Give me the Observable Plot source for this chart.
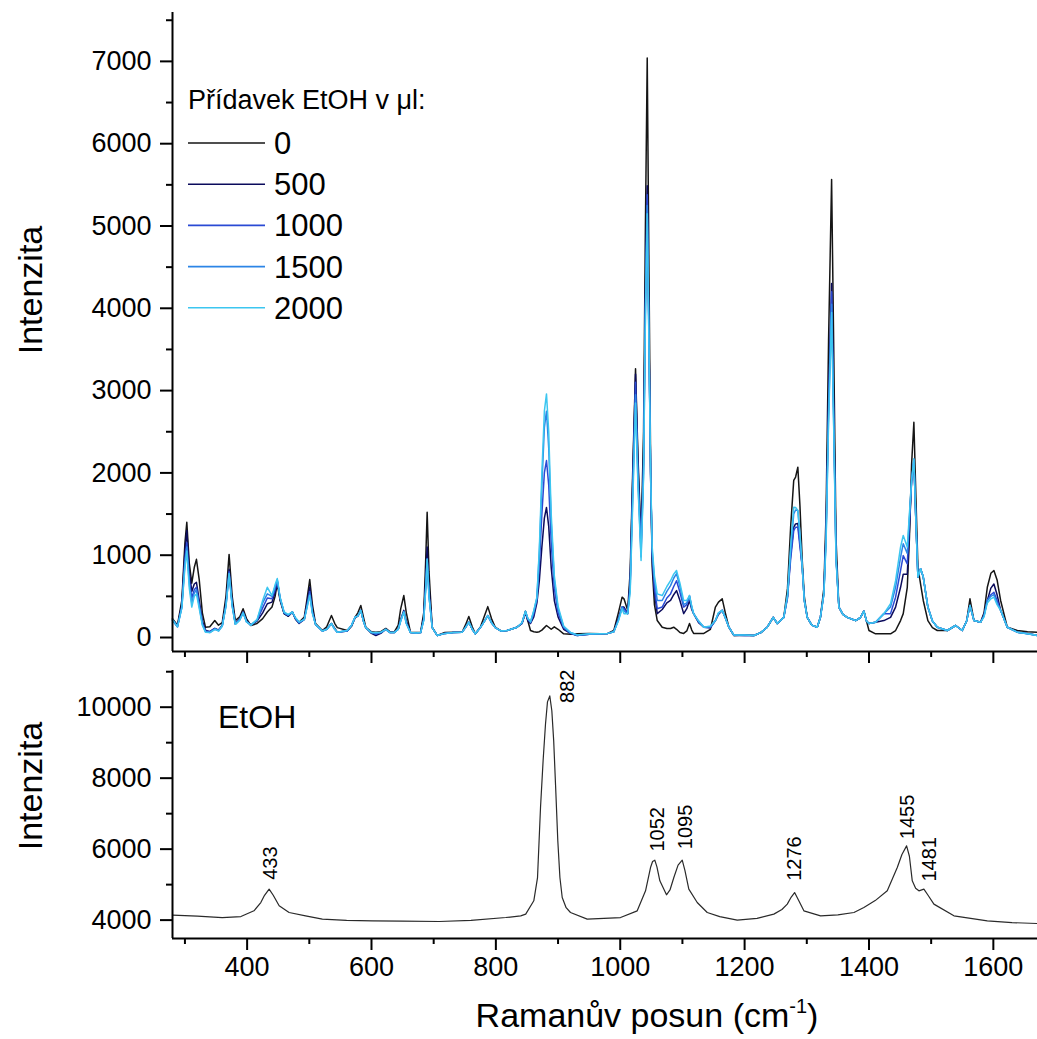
<!DOCTYPE html>
<html><head><meta charset="utf-8">
<script src="https://cdn.jsdelivr.net/npm/d3@7"></script>
<script src="https://cdn.jsdelivr.net/npm/@observablehq/plot@0.6"></script>
<style>
body{margin:0;background:#fff;}
#chart{position:relative;width:1037px;height:1039px;font-family:"Liberation Sans",Arial,sans-serif;}
#chart > svg, #chart > figure{display:block;margin:0}
#overlay{position:absolute;left:0;top:0;pointer-events:none}
</style></head><body><div id="chart"></div>
<script>
// ---- Top panel: Raman shift (cm-1) shared by the five spectra ----
const shift = [
280,288,295,300,303,307,311,315,318.5,323,
328,333,340,348,354,360,366,371,376,381,
388,393.5,399,406,416,425,432.5,440,445,448.5,
453,459.5,466,472.8,478,483.6,492,496,500.7,505,
510,521,528,535.6,541,545,561,568,573.7,578,
582.8,587,590.8,600,607,615,623,630,636.5,643,
647,652,656,662.7,672,679,684,687,689.5,692.5,
697.6,705.6,718,732,745.8,751,756.5,762,767,775,
781,787,793,799,808,818,834,842,847.6,851.5,
855.7,861,866,870,874,878,881.4,885,889,894,
900,909,920,930.8,950,968,980,989.7,997,1003,
1006,1012,1016,1020,1024.6,1028.5,1033.5,1037.5,1040.5,1043.4,
1046.5,1049,1051.4,1055,1059.5,1067.5,1075,1080.9,1086,1090.5,
1096,1102,1107,1111.4,1115,1118,1126,1134.5,1145,1153,
1158,1164,1169,1174.7,1182.7,1200,1214.9,1226,1236.4,1246,
1252.5,1263,1269,1274,1279,1282,1285.6,1289,1292.7,1296,
1300.7,1308,1316.8,1322,1327.5,1331,1335,1339.9,1343.5,1347,
1351.6,1358,1365,1378.4,1386,1391.8,1396,1400,1410.6,1424,
1434.7,1442.8,1450.8,1455.1,1461.6,1465,1468.5,1472.2,1475.5,1478.7,
1483,1487.3,1494.7,1502,1509.9,1526,1539.3,1550,1557,1562.4,
1568.8,1579.5,1585,1590.3,1596,1600.9,1606,1611.7,1622.4,1638.5,1655,1671];

const int0 = [
230,150,450,1150,1400,900,660,850,950,700,
300,125,130,206,150,180,500,1010,500,206,
250,350,230,146,170,230,310,370,500,656,
450,290,260,310,230,186,250,450,705,400,
170,85,130,267,170,120,85,140,247,300,
390,250,125,70,65,70,110,70,65,150,
350,510,300,65,60,65,300,900,1523,800,
125,25,60,65,65,150,255,130,45,125,
250,375,230,125,80,85,125,170,320,200,
85,70,65,70,90,120,146,125,100,130,
100,45,40,45,50,45,50,85,300,490,
470,330,800,2000,3265,2200,1180,2500,5000,7040,
4200,2000,855,400,206,125,110,110,125,100,
60,50,80,170,90,50,50,50,100,370,
430,470,300,125,25,30,25,60,125,245,
170,245,600,1340,1910,1950,2070,1600,935,500,
245,150,125,250,600,1500,3600,5565,3400,1200,
370,280,245,206,240,320,200,85,45,45,
45,85,206,290,610,1200,2100,2615,1700,855,
650,450,206,120,85,85,146,85,200,470,
206,186,300,610,780,815,700,450,125,85,70,65];

const int500 = [
220,140,400,1050,1300,800,560,650,670,450,
200,90,70,110,90,150,420,830,420,170,
220,310,200,150,200,300,410,430,550,680,
470,290,260,310,220,170,220,400,610,330,
160,80,100,170,110,65,80,140,240,260,
330,200,120,50,25,50,100,60,60,100,
220,330,200,60,55,60,250,700,1100,600,
120,25,50,60,65,120,186,100,45,120,
190,267,180,120,80,85,125,170,300,200,
170,250,420,700,1100,1450,1580,1350,850,450,
250,100,50,25,40,45,50,70,230,370,
370,290,700,1900,3200,2100,1100,2200,4200,5490,
3500,1900,950,550,290,340,420,450,520,570,
450,290,350,450,340,290,180,125,120,206,
280,330,240,125,25,25,25,60,125,245,
170,245,500,1000,1340,1380,1385,1150,855,450,
245,150,125,250,550,1300,2900,4300,2700,1000,
370,280,245,206,240,320,200,170,186,206,
245,370,610,770,770,1300,1900,2150,1400,735,
835,735,370,200,125,85,146,85,200,390,
206,186,280,450,600,650,520,330,125,65,50,25];

const int1000 = [
210,130,380,950,1150,700,480,580,610,400,
180,80,70,110,90,140,400,800,400,170,
220,310,200,150,210,360,480,470,580,690,
480,300,270,310,230,180,220,380,560,310,
160,80,100,170,100,65,80,150,250,260,
330,200,120,60,40,60,100,60,60,100,
210,320,180,60,55,60,220,600,960,520,
120,25,50,60,65,120,186,100,45,120,
190,267,180,120,80,85,125,170,310,220,
180,290,460,900,1500,2000,2150,1850,1150,600,
300,120,50,25,40,45,50,70,220,370,
350,290,650,1800,3100,2000,1050,2100,4100,5380,
3450,1900,1000,600,350,370,480,530,620,690,
550,370,400,500,360,290,190,125,120,206,
290,330,240,125,30,25,25,60,125,245,
170,245,480,950,1300,1340,1340,1100,855,450,
245,150,125,250,530,1250,2800,4200,2600,980,
370,280,245,206,240,320,200,170,186,290,
290,490,815,995,895,1400,1900,2150,1400,735,
835,735,370,200,125,85,146,85,200,390,
206,186,270,450,520,550,450,330,125,65,45,25];

const int1500 = [
210,130,360,900,1100,650,420,540,580,380,
160,70,60,100,80,140,380,780,380,160,
210,300,190,150,210,420,530,500,620,700,
480,300,270,310,230,180,220,360,530,300,
160,80,100,170,100,65,85,150,250,260,
330,200,120,60,50,60,100,60,60,100,
200,310,170,60,55,60,210,580,950,500,
120,25,50,60,65,120,186,100,45,120,
190,267,180,120,80,85,125,180,320,230,
190,320,480,1050,1850,2550,2750,2300,1400,700,
350,130,60,30,40,45,50,70,210,370,
320,290,600,1700,2950,1900,980,2000,3950,5250,
3400,1950,1050,700,450,450,560,630,720,775,
620,400,420,510,370,290,200,125,130,206,
300,330,240,125,30,30,25,60,125,245,
170,245,500,1050,1500,1550,1543,1250,855,450,
245,150,125,250,530,1200,2700,4050,2500,960,
370,280,245,206,240,320,200,170,186,290,
370,610,975,1140,1020,1450,1900,2170,1400,735,
835,735,370,200,125,85,146,85,200,390,
206,186,260,450,500,520,420,330,125,65,45,25];

const int2000 = [
220,130,360,850,1050,600,370,500,530,350,
150,65,60,100,80,140,380,775,380,160,
210,300,190,150,220,450,610,510,640,717,
490,310,280,310,240,190,220,350,510,290,
160,80,100,170,100,65,85,150,250,260,
330,200,120,60,60,65,100,60,60,100,
200,310,170,60,55,60,210,560,950,500,
120,25,50,60,65,120,186,100,45,120,
190,267,180,120,80,85,125,180,320,230,
190,330,490,1100,2000,2750,2960,2500,1500,750,
380,140,60,30,45,45,50,70,200,350,
290,290,550,1600,2850,1850,935,1950,3900,5150,
3350,1950,1100,750,530,510,620,690,770,815,
660,450,450,510,380,290,200,125,140,206,
300,330,240,125,30,30,25,60,125,245,
170,245,520,1100,1583,1580,1543,1250,855,450,
245,150,125,250,530,1150,2600,3950,2450,950,
370,280,245,206,240,320,200,170,186,290,
410,690,1100,1240,1100,1500,1900,2170,1400,735,
835,735,370,200,125,85,146,85,200,390,
206,186,250,420,470,490,400,330,125,65,45,25];

const seriesNames = ["0", "500", "1000", "1500", "2000"];
const seriesColors = ["#151515", "#0b0b5c", "#2a4ad4", "#2c85e6", "#3cc6f0"];

// ---- Bottom panel: EtOH reference spectrum ----
const etohShift = [
280,320,360,390,411,422,428,435.4,442,451.5,
467.5,494,521,560,601.5,650,708.8,760,816,840,
848,861,867,871.8,876,879.8,883,886.7,890,893,
896,899.6,903,906.7,913,920,946.9,1000.5,1027.3,1040.7,
1048.7,1052,1055.6,1059,1063.7,1074.4,1080,1086.2,1093,1099.7,
1104,1110.3,1123.8,1139.9,1160,1188.2,1220,1247,1260,1268.6,
1275,1280.4,1287,1295.3,1322.2,1350,1375.8,1391.8,1410,1429.4,
1445.5,1453,1460.5,1465,1469.6,1475,1480.3,1488.3,1495,1504.4,
1536.6,1590.3,1630,1670.7];
const etohInt = [
4141,4110,4073,4100,4262,4496,4700,4873,4700,4403,
4214,4121,4028,3990,3980,3970,3961,3990,4073,4121,
4169,4544,5200,7172,8500,9521,10150,10318,9900,9050,
7800,6234,5200,4637,4350,4214,4028,4073,4262,4825,
5482,5650,5690,5500,5107,4713,4850,5200,5550,5690,
5400,4873,4496,4214,4100,4000,4050,4169,4300,4451,
4650,4777,4550,4262,4121,4150,4214,4355,4550,4825,
5482,5850,6093,5800,5107,4900,4825,4873,4700,4451,
4121,3980,3930,3904];

const peakLabels = ["433", "882", "1052", "1095", "1276", "1455", "1481"];
const peakLabelShift = [437.5, 914.7, 1059.5, 1105, 1280.6, 1461.6, 1498];
const peakLabelIntensity = [5135, 10121, 5932, 6000, 5107, 6282, 5087];

// ---- Ticks ----
const xMajor = [400, 600, 800, 1000, 1200, 1400, 1600];
const xMinor = [300, 500, 700, 900, 1100, 1300, 1500];
const yTopMajor = [0, 1000, 2000, 3000, 4000, 5000, 6000, 7000];
const yTopMinor = [500, 1500, 2500, 3500, 4500, 5500, 6500, 7500];
const yBotMajor = [4000, 6000, 8000, 10000];
const yBotMinor = [5000, 7000, 9000, 11000];

// ---- Build ----
const W = 1037;
const font = '"Liberation Sans", Arial, sans-serif';
const fmt = d3.format("d");
const seriesValues = [int0, int500, int1000, int1500, int2000];
const topData = seriesNames.flatMap((name, k) =>
  shift.map((x, i) => ({shift: x, intensity: seriesValues[k][i], series: name})));
const etohData = etohShift.map((x, i) => ({shift: x, intensity: etohInt[i]}));
const labelData = peakLabels.map((t, i) => ({text: t, shift: peakLabelShift[i], intensity: peakLabelIntensity[i]}));

const styleBase = {fontFamily: font, fontSize: "27px", color: "#000", background: "transparent", overflow: "visible"};
const xDomain = [280, 1671];

const topPlot = Plot.plot({
  width: W, height: 665, marginLeft: 172, marginRight: 0, marginTop: 12, marginBottom: 14,
  style: styleBase,
  x: {domain: xDomain},
  y: {domain: [-170, 7594]},
  color: {domain: seriesNames, range: seriesColors},
  marks: [
    Plot.axisY({ticks: yTopMajor, tickSize: 12, tickPadding: 9, tickFormat: fmt, strokeWidth: 2, label: null}),
    Plot.axisY({ticks: yTopMinor, tickSize: 6, tickFormat: () => "", strokeWidth: 2, label: null}),
    Plot.axisX({ticks: xMajor, tickSize: 12, tickFormat: () => "", strokeWidth: 2, label: null}),
    Plot.axisX({ticks: xMinor, tickSize: 6, tickFormat: () => "", strokeWidth: 2, label: null}),
    Plot.line(topData, {x: "shift", y: "intensity", z: "series", stroke: "series", strokeWidth: 1.5}),
    Plot.ruleX([xDomain[0]], {strokeWidth: 2}),
    Plot.ruleY([-170], {strokeWidth: 2})
  ]
});

const botPlot = Plot.plot({
  width: W, height: 374, marginLeft: 172, marginRight: 0, marginTop: 5, marginBottom: 101,
  style: styleBase,
  x: {domain: xDomain},
  y: {domain: [3482, 11034]},
  marks: [
    Plot.axisY({ticks: yBotMajor, tickSize: 12, tickPadding: 9, tickFormat: fmt, strokeWidth: 2, label: null}),
    Plot.axisY({ticks: yBotMinor, tickSize: 6, tickFormat: () => "", strokeWidth: 2, label: null}),
    Plot.axisX({ticks: xMajor, tickSize: 12, tickPadding: 6, tickFormat: fmt, strokeWidth: 2, label: null}),
    Plot.axisX({ticks: xMinor, tickSize: 6, tickFormat: () => "", strokeWidth: 2, label: null}),
    Plot.line(etohData, {x: "shift", y: "intensity", stroke: "#2a2a2a", strokeWidth: 1.2}),
    Plot.text(labelData, {x: "shift", y: "intensity", text: "text", rotate: -90, textAnchor: "start", fontSize: 20, fill: "#000"}),
    Plot.ruleX([xDomain[0]], {strokeWidth: 2}),
    Plot.ruleY([3482], {strokeWidth: 2})
  ]
});

const chart = document.getElementById("chart");
chart.appendChild(topPlot);
chart.appendChild(botPlot);

// ---- Overlay: legend, panel label, axis titles ----
const ov = d3.select(chart).append("svg").attr("id", "overlay")
  .attr("width", W).attr("height", 1039)
  .style("font-family", font);

ov.append("text").attr("x", 188).attr("y", 109).attr("font-size", 27)
  .text("Přídavek EtOH v μl:");
const leg = ov.selectAll("g.leg").data(seriesNames).join("g").attr("class", "leg")
  .attr("transform", (d, i) => `translate(0,${143 + i * 41.2})`);
leg.append("line").attr("x1", 188).attr("x2", 265).attr("y1", 0).attr("y2", 0)
  .attr("stroke", (d, i) => seriesColors[i]).attr("stroke-width", 1.6);
leg.append("text").attr("x", 274).attr("y", 11).attr("font-size", 31).text(d => d);

ov.append("text").attr("x", 218).attr("y", 728).attr("font-size", 32).text("EtOH");

[290, 786].forEach(cy => {
  ov.append("text").attr("transform", `translate(42,${cy}) rotate(-90)`)
    .attr("text-anchor", "middle").attr("font-size", 34).text("Intenzita");
});

const xt = ov.append("text").attr("x", 647).attr("y", 1027).attr("text-anchor", "middle").attr("font-size", 34);
xt.append("tspan").text("Ramanův posun (cm");
xt.append("tspan").attr("font-size", 20).attr("dy", -14).text("-1");
xt.append("tspan").attr("dy", 14).text(")");
</script></body></html>
